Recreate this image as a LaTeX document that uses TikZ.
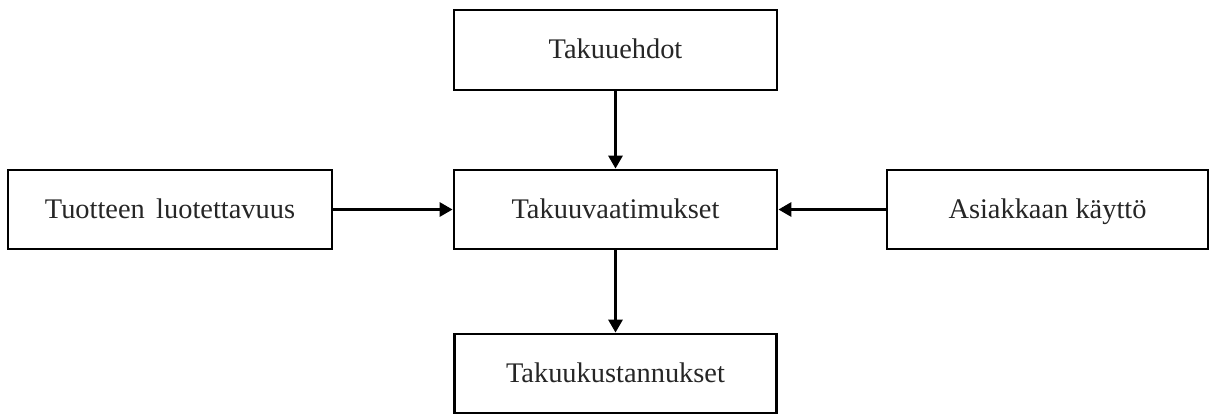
\documentclass[tikz,border=0pt]{standalone}
\usepackage{fontspec}
\setmainfont{Liberation Serif}
\usetikzlibrary{arrows.meta}
\begin{document}
\begin{tikzpicture}[x=0.5pt,y=-0.5pt,
  box/.style={draw=black,line width=1.4pt,fill=white,inner sep=0pt,
    font=\fontsize{14.2}{16}\selectfont,text=black!85,
    text height=2.0ex,text depth=0.1ex},
  conn/.style={line width=1.5pt,-{Triangle[length=6.5pt,width=7pt]}}]
\useasboundingbox (0,0) rectangle (1210,414);
\node[box,minimum width=161.5pt,minimum height=40pt] (top) at (615.5,50) {Takuuehdot};
\node[box,minimum width=161.5pt,minimum height=39.5pt] (mid) at (615.5,209.5) {Takuuvaatimukset};
\node[box,minimum width=162pt,minimum height=39.5pt] (left) at (170,209.5) {Tuotteen\hspace{0.4em}luotettavuus};
\node[box,minimum width=160.5pt,minimum height=39.5pt] (right) at (1047.5,209.5) {Asiakkaan käyttö};
\node[box,minimum width=161pt,minimum height=39.5pt] (bot) at (615.5,373.5) {Takuukustannukset};
\draw[conn] (top) -- (mid);
\draw[conn] (left) -- (mid);
\draw[conn] (right) -- (mid);
\draw[conn] (mid) -- (bot);
\end{tikzpicture}
\end{document}
